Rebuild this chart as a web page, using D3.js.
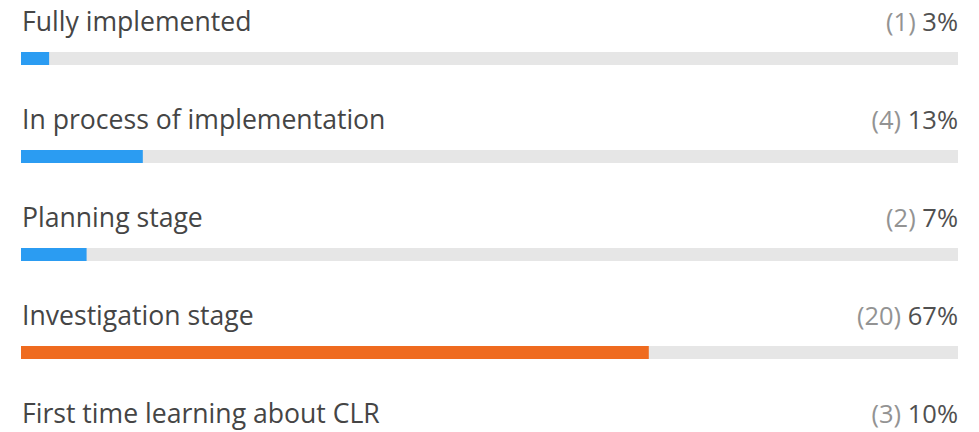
<!DOCTYPE html>
<html><head><meta charset="utf-8">
<script src="https://cdn.jsdelivr.net/npm/d3@7"></script>
<style>html,body{margin:0;padding:0;background:#fff;overflow:hidden}</style>
</head><body>
<svg id="chart" width="979" height="432"></svg>
<script>
const categories = ["Fully implemented","In process of implementation","Planning stage","Investigation stage","First time learning about CLR"];
const counts = [1,4,2,20,3];
const percents = [3,13,7,67,10];

const W = 979, H = 432;
const left = 21, right = 958;
const svg = d3.select("#chart");
const x = d3.scaleLinear().domain([0,100]).range([left,right]);
const y = d3.scaleBand().domain(categories).range([0, 98*5]).paddingInner(0).paddingOuter(0);
const maxP = d3.max(percents);
const font = "'Open Sans', 'Noto Sans', sans-serif";

const g = svg.selectAll("g.row").data(categories).join("g").attr("class","row")
  .attr("transform", d => `translate(0,${y(d)})`);

g.append("text").attr("x", left+1).attr("y", 31)
  .attr("font-family", font).attr("font-size", 26.6).attr("fill", "#454545")
  .text(d => d);

const rt = g.append("text").attr("x", right).attr("y", 31).attr("text-anchor","end")
  .attr("font-family", font).attr("font-size", 25.5);
rt.append("tspan").attr("fill","#939393").text((d,i) => `(${counts[i]}) `);
rt.append("tspan").attr("fill","#505050").text((d,i) => `${percents[i]}%`);

g.append("rect").attr("x", left).attr("y", 52).attr("width", x(100)-left).attr("height", 13).attr("fill","#e6e6e6");
g.append("rect").attr("x", left).attr("y", 52).attr("width", (d,i) => x(percents[i])-left).attr("height", 13)
  .attr("fill", (d,i) => percents[i] === maxP ? "#ef6b1f" : "#2b9cf2");
</script>
</body></html>
